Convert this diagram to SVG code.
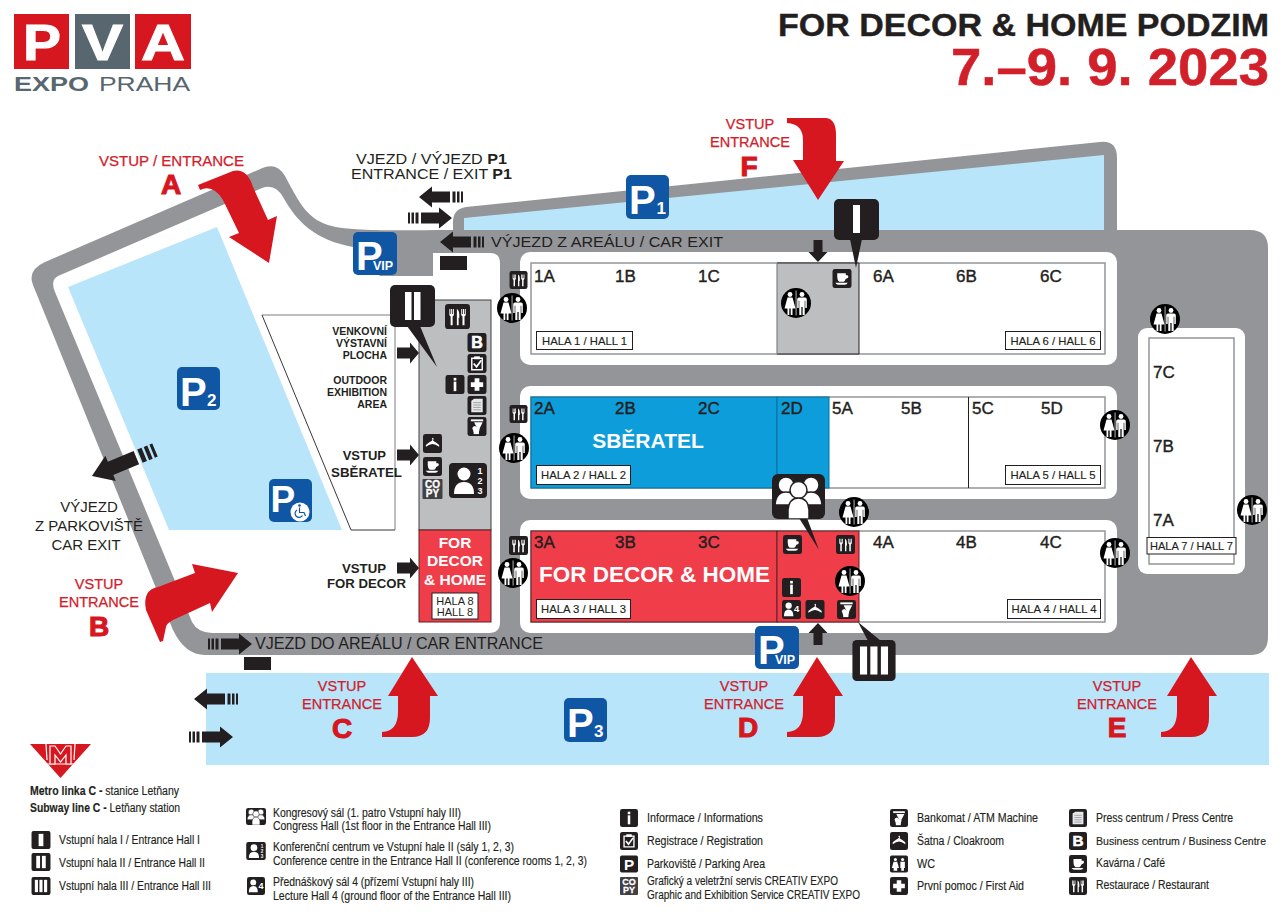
<svg xmlns="http://www.w3.org/2000/svg" width="1285" height="918" viewBox="0 0 1285 918">
<style>
text{font-family:"Liberation Sans",Arial,sans-serif;fill:#231f20}
.b{font-weight:700}
.r{fill:#d2202a}
.w{fill:#fff}
.m{text-anchor:middle}
.e{text-anchor:end}
.red{font-size:14.5px;stroke:#d2202a;stroke-width:.25}
.big{font-size:28px;font-weight:700;fill:#d7171f;text-anchor:middle;stroke:#d7171f;stroke-width:1.100}
.hn{font-size:17px;stroke:#231f20;stroke-width:.4}
.hb{fill:#fff;stroke:#231f20;stroke-width:1}
.hl{font-size:11.300px;stroke:#231f20;stroke-width:.15}
.hall{fill:#fff;stroke:#939598;stroke-width:1.500}
.out{font-size:10.500px;font-weight:700;text-anchor:end}
.ent{font-size:13px;font-weight:700}
.leg{font-size:12px;stroke:#231f20;stroke-width:.15}
.k{fill:#231f20}
.wf{fill:#fff}
.pb{fill:#0f56a5}
.rd{fill:#d7171f}
.blue{fill:#b9e5fb}
.pl{font-size:40px;font-weight:700;fill:#fff}
.pn{font-size:17px;font-weight:700;fill:#fff}
.vip{font-size:12.500px;font-weight:700;fill:#fff}
</style>
<defs>
<symbol id="s-wc" viewBox="0 0 30 30"><circle cx="15" cy="15" r="15" fill="#000"/><g fill="#fff"><circle cx="9" cy="6.500" r="2.400"/><path d="M6.500 9.500h5l3 11h-3v6.500H9.700v-6.500h-1.400V27H6.500v-6.500h-3z"/><circle cx="21" cy="6.500" r="2.400"/><path d="M18 9.500h6q1.800 0 1.800 1.800v8.700h-1.500v-7.200h-.6V27h-2.100v-8h-1.200v8h-2.100V12.800h-.6V20h-1.500v-8.700q0-1.800 1.800-1.800z"/><rect x="14.700" y="2.500" width=".7" height="25"/></g></symbol>
<symbol id="s-rest" viewBox="0 0 20 20"><rect width="20" height="20" rx="2.500" class="k"/><path class="wf" d="M3.500 4v5l1 1v7h1.600v-7l1-1V4h-.8v4h-.6V4h-.8v4h-.6V4zM9.500 4q2.300 1.200 2 7h-.6v6H9.500zM13 4v5l1 1v7h1.600v-7l1-1V4h-.8v4h-.6V4h-.8v4h-.6V4z"/></symbol>
<symbol id="s-b" viewBox="0 0 20 20"><rect width="20" height="20" rx="2.500" class="k"/><text x="10" y="16" font-size="17" class="b w m" stroke="#fff" stroke-width=".6">B</text></symbol>
<symbol id="s-reg" viewBox="0 0 20 20"><rect width="20" height="20" rx="2.500" class="k"/><path d="M4.500 4.500h11v12h-11z" fill="none" stroke="#fff" stroke-width="1.500"/><rect x="7" y="2.500" width="6" height="3" class="wf"/><path d="M6.500 10l3 3.500 5-7" fill="none" stroke="#fff" stroke-width="1.800"/></symbol>
<symbol id="s-info" viewBox="0 0 20 20"><rect width="20" height="20" rx="2.500" class="k"/><rect x="8.600" y="3" width="2.800" height="2.800" class="wf"/><rect x="8.600" y="7" width="2.800" height="10" class="wf"/></symbol>
<symbol id="s-plus" viewBox="0 0 20 20"><rect width="20" height="20" rx="2.500" class="k"/><path class="wf" d="M7.500 3.500h5v4h4v5h-4v4h-5v-4h-4v-5h4z"/></symbol>
<symbol id="s-press" viewBox="0 0 20 20"><rect width="20" height="20" rx="2.500" class="k"/><path d="M4 5l3-2h9v14H4z" fill="#e6e7e8"/><path d="M6 7h8M6 9.500h8M6 12h8M6 14.500h8" stroke="#939598" stroke-width=".9"/></symbol>
<symbol id="s-atm" viewBox="0 0 20 20"><rect width="20" height="20" rx="2.500" class="k"/><rect x="3.500" y="2.500" width="13" height="2" class="wf"/><path class="wf" d="M7 5.500h9l-3 6h-3z"/><path class="wf" d="M5 11.500q1-2 3-2l2 1.500 3 .5-1 4.500H6.500z"/><rect x="6.500" y="15.500" width="5.500" height="2.500" class="wf"/></symbol>
<symbol id="s-cloak" viewBox="0 0 20 20"><rect width="20" height="20" rx="2.500" class="k"/><path class="wf" d="M10 4q1.500 0 1 2l-.4 1q3 1.500 6.400 4.500v2Q13 10.500 10 10.500T3 13.500v-2Q6.400 8.500 9.400 7q1-1 .6-1.500h-.8z"/></symbol>
<symbol id="s-cafe" viewBox="0 0 20 20"><rect width="20" height="20" rx="2.500" class="k"/><path class="wf" d="M5 4.500h9v2h2q1.500 1.500 0 3l-2.200 1q-.5 2-2 3H7q-2-1.500-2-5zM3 14.500h13q-1 2-3 2H6q-2 0-3-2z"/></symbol>
<symbol id="s-copy" viewBox="0 0 20 20"><rect width="20" height="20" rx="1" fill="#414042"/><text x="10" y="9" font-size="10" class="b w m" stroke="#fff" stroke-width=".3">CO</text><text x="10" y="18" font-size="10" class="b w m" stroke="#fff" stroke-width=".3">PY</text></symbol>
<symbol id="s-conf" viewBox="0 0 38 35"><rect width="38" height="35" rx="4" class="k"/><circle cx="15" cy="11" r="6.500" class="wf"/><path class="wf" d="M5 31q0-12 10-12t10 12z"/><text x="31" y="11" font-size="9" class="b w m">1</text><text x="31" y="21" font-size="9" class="b w m">2</text><text x="31" y="31" font-size="9" class="b w m">3</text></symbol>
<symbol id="s-lect" viewBox="0 0 20 20"><rect width="20" height="20" rx="2.500" class="k"/><circle cx="7" cy="6" r="3.300" class="wf"/><path class="wf" d="M2 17q0-7 5-7t5 7z"/><text x="15.500" y="13" font-size="10" class="b w m">4</text></symbol>
<symbol id="s-congress" viewBox="0 0 53 45"><rect width="53" height="45" rx="6" class="k"/><g class="wf" stroke="#231f20" stroke-width="1.500"><circle cx="14" cy="11" r="8"/><circle cx="39" cy="11" r="8"/><path d="M3 31q1-13 11-13t11 13zM28 31q1-13 11-13t11 13z"/><circle cx="26.500" cy="16" r="8.500"/><path d="M16 45V36q1-12 10.500-12T37 36v9z"/></g></symbol>
<symbol id="s-h1" viewBox="0 0 20 19"><rect width="20" height="19" rx="2" class="k"/><rect x="7.500" y="3" width="5" height="13" class="wf"/></symbol>
<symbol id="s-h2" viewBox="0 0 20 19"><rect width="20" height="19" rx="2" class="k"/><rect x="5" y="3" width="4" height="13" class="wf"/><rect x="11" y="3" width="4" height="13" class="wf"/></symbol>
<symbol id="s-h3" viewBox="0 0 20 19"><rect width="20" height="19" rx="2" class="k"/><rect x="3.500" y="3" width="3.300" height="13" class="wf"/><rect x="8.300" y="3" width="3.300" height="13" class="wf"/><rect x="13.200" y="3" width="3.300" height="13" class="wf"/></symbol>
<symbol id="s-p" viewBox="0 0 20 19"><rect width="20" height="19" rx="2" class="k"/><text x="10" y="16" font-size="17" class="b w m">P</text></symbol>
<symbol id="s-wcl" viewBox="0 0 20 19"><rect width="20" height="19" rx="2" class="k"/><g fill="#fff"><circle cx="6" cy="4.500" r="1.700"/><path d="M4 7h4l2 7H8v3H4v-3H2z"/><circle cx="14" cy="4.500" r="1.700"/><path d="M11.500 7h5v7h-1v3h-3v-3h-1z"/></g></symbol>
<g id="dash-arrow"><path d="M0-5.500h2v11H0zM3.500-5.500h2.500v11H3.500zM7.500-5.500h3v11h-3zM13-5.500h18V-10.500L44 0 31 10.500V5.500H13z" class="k"/></g>
<path id="plain-arrow" d="M0-5.500h13V-10.500L22 0 13 10.500V5.500H0z" class="k"/>
<path id="small-up" d="M-4.500 22V10H-9.500L0 0 9.500 10H4.500V22z" class="k"/>
<path id="arrow-up" d="M0 0L26 39H18V61Q18 80 0 80H-30V75Q-14 74-14 55V39H-24Z" class="rd"/>
</defs>

<rect width="1285" height="918" fill="#fff"/>

<g id="logo">
<rect x="14" y="14" width="55" height="55" class="rd"/><rect x="75" y="14" width="55" height="55" fill="#58666f"/><rect x="135" y="14" width="56" height="55" class="rd"/>
<text x="23" y="60" font-size="50" textLength="38" lengthAdjust="spacingAndGlyphs" class="b w" stroke="#fff" stroke-width="1">P</text>
<text x="82" y="60" font-size="50" textLength="41" lengthAdjust="spacingAndGlyphs" class="b w" stroke="#fff" stroke-width="1">V</text>
<text x="141" y="60" font-size="50" textLength="44" lengthAdjust="spacingAndGlyphs" class="b w" stroke="#fff" stroke-width="1">A</text>
<text x="14" y="91" font-size="21" textLength="75" lengthAdjust="spacingAndGlyphs" class="b" style="fill:#58666f">EXPO</text>
<text x="99" y="91" font-size="21" textLength="91" lengthAdjust="spacingAndGlyphs" style="fill:#58666f">PRAHA</text>
</g>
<g id="title">
<text x="778" y="36" font-size="32" textLength="491" lengthAdjust="spacingAndGlyphs" class="b" stroke="#231f20" stroke-width=".4">FOR DECOR &amp; HOME PODZIM</text>
<text x="951" y="85" font-size="51" textLength="318" lengthAdjust="spacingAndGlyphs" class="b r" stroke="#d2202a" stroke-width=".5">7.–9. 9. 2023</text>
</g>

<g id="grounds">
<path d="M45 262L258 170Q276 160 285 176C298 200 306 218 328 225C350 232 400 230 453 230V222Q453 209 466 207L1100 142Q1117 140 1117 158V230H1250Q1268 230 1268 248V637Q1268 655 1250 655H205Q185 655 173 630L33 285Q27 270 45 262Z" fill="#939598"/>
<path d="M58 276L262 188Q275 183 283 197C297 222 315 240 353 247L380 276H433V253H490Q500 253 500 263V622Q500 633 489 633H212Q198 633 192 622L55 292Q50 280 58 276Z" fill="#fff"/>
<path d="M464 218L1104 155V230H464Z" class="blue"/>
<path d="M217 227L68 287L169 530H342Z" class="blue"/>
<rect x="206" y="673" width="1063" height="92" class="blue"/>
<rect x="520" y="252" width="597" height="113" rx="10" fill="#fff"/>
<rect x="520" y="386" width="597" height="113" rx="10" fill="#fff"/>
<rect x="520" y="520" width="597" height="113" rx="10" fill="#fff"/>
<rect x="1138" y="328" width="107" height="246" rx="9" fill="#fff"/>
</g>

<g id="outdoor-area">
<path d="M262 315H392V530H351Z" fill="#fff"/>
<path d="M262 315H392" stroke="#a7a9ac" stroke-width="1.500" fill="none"/>
<path d="M395 315V530" stroke="#a7a9ac" stroke-width="1.500" fill="none"/>
<path d="M262 315L351 530H395" stroke="#231f20" stroke-width=".9" fill="none"/>
<g class="out"><text x="387" y="335">VENKOVNÍ</text><text x="387" y="347">VÝSTAVNÍ</text><text x="387" y="359">PLOCHA</text><text x="387" y="384">OUTDOOR</text><text x="387" y="396">EXHIBITION</text><text x="387" y="408">AREA</text></g>
<text x="386" y="460" class="ent e">VSTUP</text>
<text x="331" y="477" class="ent" textLength="71" lengthAdjust="spacingAndGlyphs">SBĚRATEL</text>
<text x="342" y="573" class="ent" textLength="44" lengthAdjust="spacingAndGlyphs">VSTUP</text>
<text x="327" y="588" class="ent" textLength="79" lengthAdjust="spacingAndGlyphs">FOR DECOR</text>
</g>

<g id="hall-8">
<rect x="419" y="300" width="72" height="230" fill="#bcbec0" stroke="#414042" stroke-width="1"/>
<rect x="419" y="530" width="72" height="92" fill="#ef3e4a" stroke="#5a2226" stroke-width="1"/>
<text x="455" y="548" font-size="15.500" class="b w m">FOR</text><text x="455" y="566" font-size="15.500" class="b w m">DECOR</text><text x="455" y="585" font-size="15.500" class="b w m">&amp; HOME</text>
<rect x="432" y="593" width="46" height="26" class="hb"/>
<text x="455" y="605" font-size="11" class="m">HALA 8</text><text x="455" y="615.500" font-size="11" class="m">HALL 8</text>
<use href="#s-rest" x="444" y="304" width="27" height="25"/>
<use href="#s-b" x="467" y="333" width="20" height="19"/>
<use href="#s-reg" x="467" y="354" width="20" height="19"/>
<use href="#s-info" x="445" y="375" width="20" height="19"/>
<use href="#s-plus" x="467" y="375" width="20" height="19"/>
<use href="#s-press" x="467" y="396" width="20" height="19"/>
<use href="#s-atm" x="467" y="417" width="20" height="19"/>
<use href="#s-cloak" x="422" y="434" width="21" height="19"/>
<use href="#s-cafe" x="422" y="457" width="21" height="19"/>
<use href="#s-copy" x="422" y="479" width="21" height="20"/>
<use href="#s-conf" x="449" y="463" width="38" height="35"/>
</g>
<g id="callout-ii"><rect x="390" y="285" width="45" height="42" rx="5" class="k"/><path d="M407 326L437 367L420 326Z" class="k"/><rect x="405" y="292" width="6.500" height="28" class="wf"/><rect x="414" y="292" width="6.500" height="28" class="wf"/></g>

<g id="hall-row-1">
<rect x="531" y="263" width="574" height="91" class="hall"/>
<rect x="777" y="263" width="82" height="91" fill="#bcbec0"/>
<path d="M777 263H859V354H777" fill="none" stroke="#231f20" stroke-width="1"/>
<path d="M777 263V354" fill="none" stroke="#808285" stroke-width="1.200"/>
<g class="hn"><text x="534" y="282">1A</text><text x="615" y="282">1B</text><text x="698" y="282">1C</text><text x="873" y="282">6A</text><text x="956" y="282">6B</text><text x="1040" y="282">6C</text></g>
<rect x="536.500" y="331.500" width="96" height="18" class="hb"/><text x="584.500" y="344.500" class="hl m">HALA 1 / HALL 1</text>
<rect x="1005.500" y="331.500" width="95" height="18" class="hb"/><text x="1053" y="344.500" class="hl m">HALA 6 / HALL 6</text>
<use href="#s-cafe" x="831" y="269" width="22" height="19"/>
<use href="#s-wc" x="781" y="288" width="30" height="30"/>
<use href="#s-rest" x="508" y="271" width="21" height="18"/>
<use href="#s-wc" x="497" y="293" width="30" height="30"/>
</g>
<g id="hall-row-2">
<rect x="531" y="397" width="574" height="91" class="hall"/>
<rect x="531" y="397" width="246" height="91" fill="#0d9ddb" stroke="#0b6f9f" stroke-width="1"/>
<rect x="777" y="397" width="52" height="91" fill="#0d9ddb" stroke="#0b6f9f" stroke-width="1"/>
<path d="M968.500 397V488" stroke="#231f20" stroke-width="1"/>
<g class="hn"><text x="534" y="414">2A</text><text x="615" y="414">2B</text><text x="698" y="414">2C</text><text x="781" y="414">2D</text><text x="832" y="414">5A</text><text x="901" y="414">5B</text><text x="972" y="414">5C</text><text x="1041" y="414">5D</text></g>
<text x="648" y="448" font-size="21" class="b w m">SBĚRATEL</text>
<rect x="536.500" y="465.500" width="94" height="19" class="hb"/><text x="583.500" y="479" class="hl m">HALA 2 / HALL 2</text>
<rect x="1005.500" y="465.500" width="95" height="19" class="hb"/><text x="1053" y="479" class="hl m">HALA 5 / HALL 5</text>
<use href="#s-rest" x="508" y="405" width="21" height="18"/>
<use href="#s-wc" x="499" y="433" width="30" height="30"/>
<use href="#s-wc" x="1100" y="410" width="30" height="30"/>
</g>
<g id="hall-row-3">
<rect x="531" y="531" width="574" height="91" class="hall"/>
<rect x="531" y="531" width="246" height="91" fill="#ef3e4a" stroke="#5a2226" stroke-width="1"/>
<rect x="777" y="531" width="82" height="91" fill="#ef3e4a" stroke="#5a2226" stroke-width="1"/>
<g class="hn"><text x="534" y="548">3A</text><text x="615" y="548">3B</text><text x="698" y="548">3C</text><text x="873" y="548">4A</text><text x="956" y="548">4B</text><text x="1040" y="548">4C</text></g>
<text x="539" y="582" font-size="22" textLength="231" lengthAdjust="spacingAndGlyphs" class="b w">FOR DECOR &amp; HOME</text>
<rect x="536.500" y="599.500" width="94" height="19" class="hb"/><text x="583.500" y="613" class="hl m">HALA 3 / HALL 3</text>
<rect x="1007.500" y="599.500" width="93" height="19" class="hb"/><text x="1054" y="613" class="hl m">HALA 4 / HALL 4</text>
<use href="#s-cafe" x="782" y="535" width="21" height="19"/>
<use href="#s-rest" x="835" y="535" width="21" height="19"/>
<use href="#s-info" x="781" y="578" width="21" height="19"/>
<use href="#s-lect" x="781" y="600" width="21" height="19"/>
<use href="#s-cloak" x="805" y="600" width="20" height="19"/>
<use href="#s-atm" x="836" y="600" width="21" height="19"/>
<use href="#s-wc" x="835" y="566" width="30" height="30"/>
<use href="#s-wc" x="839" y="497" width="30" height="30"/>
<use href="#s-rest" x="508" y="536" width="21" height="19"/>
<use href="#s-wc" x="498" y="558" width="30" height="30"/>
<use href="#s-wc" x="1100" y="538" width="30" height="30"/>
</g>
<g id="hall-7">
<rect x="1149" y="338" width="85" height="226" class="hall"/>
<g class="hn"><text x="1153" y="378">7C</text><text x="1153" y="452">7B</text><text x="1153" y="526">7A</text></g>
<rect x="1147" y="537.500" width="89" height="16.500" class="hb"/><text x="1191.500" y="550" class="hl m" textLength="83" lengthAdjust="spacingAndGlyphs">HALA 7 / HALL 7</text>
<use href="#s-wc" x="1150" y="304" width="30" height="30"/>
<use href="#s-wc" x="1237" y="495" width="30" height="30"/>
</g>
<g id="callout-i"><path d="M850 239L856 268L862 239Z" class="k"/><rect x="834" y="199" width="45" height="41" rx="5" class="k"/><rect x="853" y="205" width="7" height="28" class="wf"/></g>
<g id="callout-congress"><path d="M799 518L819 550L807 518Z" class="k"/><use href="#s-congress" x="772" y="474" width="53" height="45"/></g>
<g id="callout-iii"><path d="M858 622L868 641H881Z" class="k"/><use href="#s-h3" x="851" y="640" width="46" height="41"/></g>

<g id="parking-p1"><rect x="626" y="175" width="43" height="44" rx="5" class="pb"/><text x="629" y="214" class="pl">P</text><text x="656.500" y="214" class="pn">1</text></g>
<g id="parking-p2"><rect x="177" y="367" width="43" height="43" rx="5" class="pb"/><text x="180" y="406" class="pl">P</text><text x="207" y="406" class="pn">2</text></g>
<g id="parking-p3"><rect x="564" y="698" width="43" height="44" rx="5" class="pb"/><text x="567" y="737" class="pl">P</text><text x="594" y="737" class="pn">3</text></g>
<g id="parking-disabled"><rect x="269" y="479" width="43" height="43" rx="5" class="pb"/><text x="270.500" y="512" font-size="37" class="b w">P</text><circle cx="300" cy="512" r="9.500" class="wf"/><circle cx="299.500" cy="505.500" r="1.300" class="pb"/><path d="M299.500 507.500v5h4.500l1.500 3.500M297 510a4 4 0 1 0 5.500 5.500" fill="none" stroke="#0f56a5" stroke-width="1.200"/></g>
<g id="parking-vip-1"><rect x="353" y="232" width="44" height="43" rx="5" class="pb"/><text x="356" y="270" class="pl">P</text><text x="373" y="270" class="vip">VIP</text></g>
<g id="parking-vip-2"><rect x="755" y="626" width="44" height="43" rx="5" class="pb"/><text x="758" y="664" class="pl">P</text><text x="775" y="664" class="vip">VIP</text></g>

<g id="connectors">
<path class="rd" d="M198 185L233 171Q247 168 253 187L268 220L277 216L269 263L229 237L239 233L223 200Q213 184 200 190Z"/>
<path class="rd" d="M787 118H825Q836 118 836 135V161H844L818 200L793 160H803V140Q803 124 787 123Z"/>
<path class="rd" d="M160 642L146 610Q142 590 158 587L195 573L192 564L238 573L212 612L210 603L173 620Q166 624 166 627L163 641Z"/>
<use href="#arrow-up" x="412" y="657"/>
<use href="#arrow-up" x="817" y="657"/>
<use href="#arrow-up" x="1191" y="657"/>
<use href="#dash-arrow" transform="translate(463 197) scale(-1 1)"/>
<use href="#dash-arrow" transform="translate(408 218)"/>
<use href="#dash-arrow" transform="translate(484 242) scale(-1 1)"/>
<use href="#dash-arrow" transform="translate(208 644)"/>
<use href="#dash-arrow" transform="translate(238 699) scale(-1 1)"/>
<use href="#dash-arrow" transform="translate(189 737)"/>
<use href="#dash-arrow" transform="translate(155 450) rotate(157.600) scale(1.550 1.300)"/>
<use href="#plain-arrow" transform="translate(397 353)"/>
<use href="#plain-arrow" transform="translate(397 455)"/>
<use href="#plain-arrow" transform="translate(397 568)"/>
<use href="#small-up" transform="translate(818 623)"/>
<use href="#small-up" transform="translate(818 262) rotate(180)"/>
<rect x="440" y="256" width="27" height="14" class="k"/>
<rect x="244" y="657" width="27" height="13" class="k"/>
</g>

<g id="road-labels">
<text x="356" y="164" font-size="15" textLength="151" lengthAdjust="spacingAndGlyphs">VJEZD / VÝJEZD <tspan class="b">P1</tspan></text>
<text x="351" y="179" font-size="15" textLength="161" lengthAdjust="spacingAndGlyphs">ENTRANCE / EXIT <tspan class="b">P1</tspan></text>
<text x="491" y="247" font-size="15.500" textLength="232" lengthAdjust="spacingAndGlyphs">VÝJEZD Z AREÁLU / CAR EXIT</text>
<text x="255" y="649" font-size="16" textLength="288" lengthAdjust="spacingAndGlyphs">VJEZD DO AREÁLU / CAR ENTRANCE</text>
<text x="89" y="512" font-size="15" class="m">VÝJEZD</text><text x="89" y="531" font-size="15" class="m">Z PARKOVIŠTĚ</text><text x="86" y="550" font-size="15" class="m">CAR EXIT</text>
</g>
<g id="entrance-labels">
<text x="99" y="166" class="red r" textLength="145" lengthAdjust="spacingAndGlyphs">VSTUP / ENTRANCE</text><text x="171" y="194" class="big">A</text>
<text x="750" y="129" class="red r m">VSTUP</text><text x="750" y="147" class="red r m">ENTRANCE</text><text x="749" y="176" class="big">F</text>
<text x="99" y="589" class="red r m">VSTUP</text><text x="99" y="607" class="red r m">ENTRANCE</text><text x="99" y="636" class="big">B</text>
<text x="342" y="691" class="red r m">VSTUP</text><text x="342" y="709" class="red r m">ENTRANCE</text><text x="342" y="738" class="big">C</text>
<text x="744" y="691" class="red r m">VSTUP</text><text x="744" y="709" class="red r m">ENTRANCE</text><text x="748" y="737" class="big">D</text>
<text x="1117" y="691" class="red r m">VSTUP</text><text x="1117" y="709" class="red r m">ENTRANCE</text><text x="1117" y="737" class="big">E</text>
</g>

<g id="metro-logo">
<path d="M30 744H91L60.500 778Z" class="rd"/>
<path d="M46 744L47 760M75 744L74 760M36 764H85" stroke="#fff" stroke-width="1.200"/>
<path d="M50 746H55L60.500 754L66 746H71V764H66V755L60.500 762L55 755V764H50Z" fill="#d7171f" stroke="#fff" stroke-width="1.200"/>
</g>
<g id="legend">
<text x="30" y="795" class="leg" textLength="149" lengthAdjust="spacingAndGlyphs"><tspan class="b">Metro linka C -</tspan> stanice Letňany</text>
<text x="30" y="812" class="leg" textLength="150" lengthAdjust="spacingAndGlyphs"><tspan class="b">Subway line C -</tspan> Letňany station</text>
<use href="#s-h1" x="31" y="831" width="20" height="18"/><text x="59" y="844" class="leg" textLength="141" lengthAdjust="spacingAndGlyphs">Vstupní hala I / Entrance Hall I</text>
<use href="#s-h2" x="31" y="853" width="20" height="18"/><text x="59" y="867" class="leg" textLength="146" lengthAdjust="spacingAndGlyphs">Vstupní hala II / Entrance Hall II</text>
<use href="#s-h3" x="31" y="877" width="20" height="18"/><text x="59" y="890" class="leg" textLength="152" lengthAdjust="spacingAndGlyphs">Vstupní hala III / Entrance Hall III</text>

<use href="#s-congress" x="246" y="808" width="20" height="17"/>
<text x="273" y="817" class="leg" textLength="188" lengthAdjust="spacingAndGlyphs">Kongresový sál (1. patro Vstupní haly III)</text>
<text x="273" y="830" class="leg" textLength="218" lengthAdjust="spacingAndGlyphs">Congress Hall (1st floor in the Entrance Hall III)</text>
<use href="#s-conf" x="246" y="842" width="20" height="18"/>
<text x="273" y="851" class="leg" textLength="241" lengthAdjust="spacingAndGlyphs">Konferenční centrum ve Vstupní hale II (sály 1, 2, 3)</text>
<text x="273" y="865" class="leg" textLength="314" lengthAdjust="spacingAndGlyphs">Conference centre in the Entrance Hall II (conference rooms 1, 2, 3)</text>
<use href="#s-lect" x="246" y="877" width="20" height="18"/>
<text x="273" y="886" class="leg" textLength="201" lengthAdjust="spacingAndGlyphs">Přednáškový sál 4 (přízemí Vstupní haly III)</text>
<text x="273" y="900" class="leg" textLength="238" lengthAdjust="spacingAndGlyphs">Lecture Hall 4 (ground floor of the Entrance Hall III)</text>

<use href="#s-info" x="620" y="809" width="18" height="18"/><text x="647" y="822" class="leg" textLength="116" lengthAdjust="spacingAndGlyphs">Informace / Informations</text>
<use href="#s-reg" x="620" y="832" width="18" height="18"/><text x="647" y="845" class="leg" textLength="116" lengthAdjust="spacingAndGlyphs">Registrace / Registration</text>
<use href="#s-p" x="620" y="855" width="18" height="18"/><text x="647" y="868" class="leg" textLength="118" lengthAdjust="spacingAndGlyphs">Parkoviště / Parking Area</text>
<use href="#s-copy" x="620" y="877" width="18" height="18"/><text x="647" y="885" class="leg" textLength="191" lengthAdjust="spacingAndGlyphs">Grafický a veletržní servis CREATIV EXPO</text><text x="647" y="899" class="leg" textLength="213" lengthAdjust="spacingAndGlyphs">Graphic and Exhibition Service CREATIV EXPO</text>

<use href="#s-atm" x="890" y="809" width="18" height="18"/><text x="917" y="822" class="leg" textLength="121" lengthAdjust="spacingAndGlyphs">Bankomat / ATM Machine</text>
<use href="#s-cloak" x="890" y="832" width="18" height="18"/><text x="917" y="845" class="leg" textLength="87" lengthAdjust="spacingAndGlyphs">Šatna / Cloakroom</text>
<use href="#s-wcl" x="890" y="855" width="18" height="18"/><text x="917" y="868" class="leg" textLength="18" lengthAdjust="spacingAndGlyphs">WC</text>
<use href="#s-plus" x="890" y="877" width="18" height="18"/><text x="917" y="890" class="leg" textLength="107" lengthAdjust="spacingAndGlyphs">První pomoc / First Aid</text>

<use href="#s-press" x="1069" y="809" width="18" height="18"/><text x="1096" y="822" class="leg" textLength="137" lengthAdjust="spacingAndGlyphs">Press centrum / Press Centre</text>
<use href="#s-b" x="1069" y="832" width="18" height="18"/><text x="1096" y="845" class="leg" font-size="11.300" style="font-size:11.300px" textLength="170" lengthAdjust="spacingAndGlyphs">Business centrum / Business Centre</text>
<use href="#s-cafe" x="1069" y="855" width="18" height="18"/><text x="1096" y="867" class="leg" textLength="69" lengthAdjust="spacingAndGlyphs">Kavárna / Café</text>
<use href="#s-rest" x="1069" y="877" width="18" height="18"/><text x="1096" y="889" class="leg" textLength="113" lengthAdjust="spacingAndGlyphs">Restaurace / Restaurant</text>
</g>
</svg>
